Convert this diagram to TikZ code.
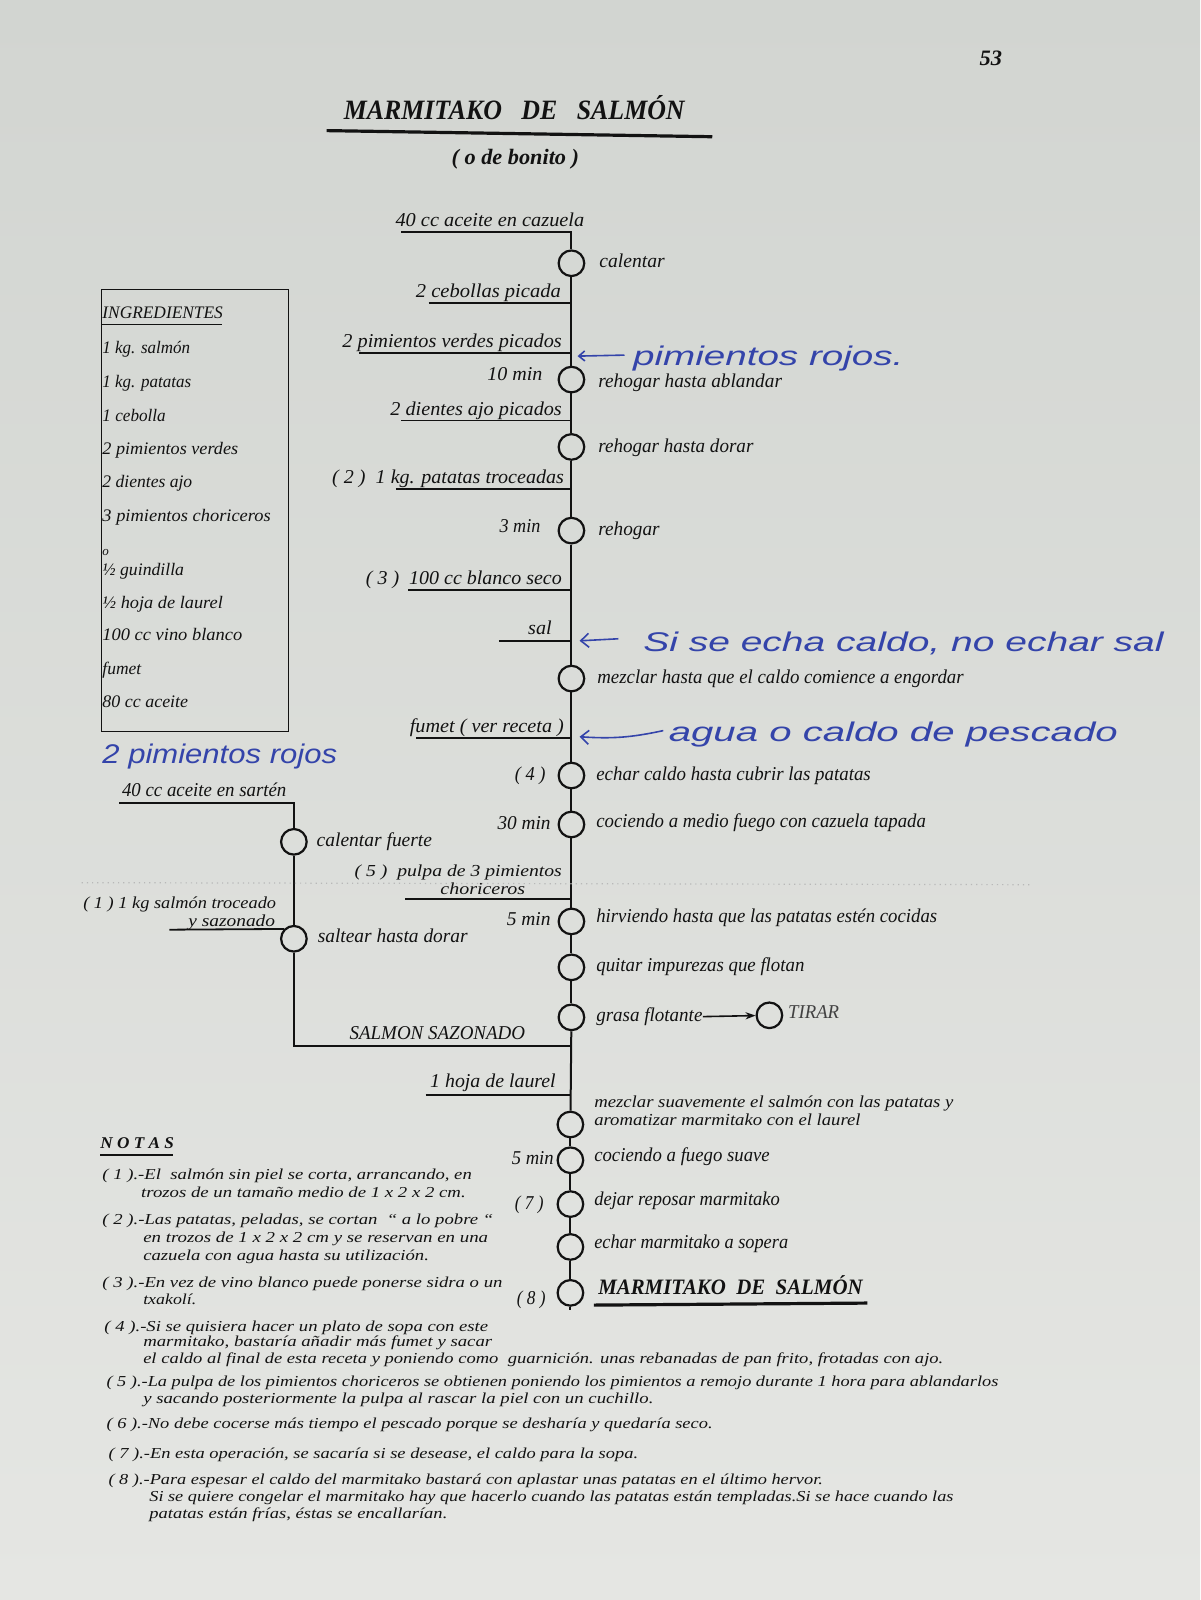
\documentclass[tikz,border=0pt]{standalone}
\usepackage{fontspec}
\usepackage{graphicx}
\setmainfont{Liberation Serif}
\newfontfamily\handfont{Liberation Sans}
\usetikzlibrary{arrows.meta}
\definecolor{paperT}{RGB}{210,213,209}
\definecolor{paperB}{RGB}{229,230,227}
\definecolor{ink}{RGB}{18,18,18}
\definecolor{pen}{RGB}{52,68,170}
\newdimen\pxu \pxu=0.5102pt
\newcommand\fw[2]{\resizebox{#1\pxu}{\height}{#2}}
\begin{document}
\begin{tikzpicture}[x=0.5102pt,y=-0.5102pt,
  lbl/.style={font=\itshape\fontsize{9.8}{11}\selectfont, inner sep=0pt, text=ink},
  lw/.style={lbl, anchor=base west},
  le/.style={lbl, anchor=base east},
  two/.style={font=\itshape\fontsize{8.4}{9}\selectfont},
  ing/.style={font=\itshape\fontsize{8.8}{10}\selectfont, inner sep=0pt, text=ink, anchor=base west},
  note/.style={font=\itshape\fontsize{7.6}{8}\selectfont, inner sep=0pt, text=ink, anchor=base west},
  stepc/.style={circle, draw=ink, line width=1.1pt, minimum size=12.8pt, inner sep=0pt},
  flow/.style={draw=ink, line width=1pt},
  uline/.style={draw=ink, line width=0.9pt},
  hand/.style={font=\handfont\itshape\fontsize{13.5}{16}\selectfont, text=pen, inner sep=0pt, anchor=base west},
  penline/.style={draw=pen, line width=0.8pt},
]
\useasboundingbox (0,0) rectangle (1176,1568);
\shade[top color=paperT, bottom color=paperB] (0,0) rectangle (1176,1568);

% ---------- header ----------
\node[font=\bfseries\itshape\fontsize{11}{13}\selectfont, text=ink, inner sep=0pt, anchor=base] (pnum) at (971,64) {\fw{22}{53}};
\node[font=\bfseries\itshape\fontsize{14}{16}\selectfont, text=ink, inner sep=0pt, anchor=base] (title) at (504,117) {\fw{334}{MARMITAKO\ \ \ DE\ \ \ SALMÓN}};
\coordinate (tu1) at (320,128);
\coordinate (tu2) at (698,134);
\draw[ink, line width=1.6pt] (tu1) -- (tu2);
\node[font=\bfseries\itshape\fontsize{11}{13}\selectfont, text=ink, inner sep=0pt, anchor=base] (subt) at (505,161) {\fw{125}{( o de bonito )}};

% ---------- ingredients box ----------
\node[draw=ink, line width=0.7pt, minimum width=93.4pt, minimum height=220.9pt, inner sep=0pt, anchor=north west] (ingbox) at (99,283) {};
\node[ing] (ingh) at (100,312) {\fw{118}{INGREDIENTES}};
\coordinate (ihu1) at (99,318);
\coordinate (ihu2) at (218,318);
\draw[ink, line width=0.9pt] (ihu1) -- (ihu2);
\node[ing] (i1) at (100,346) {\fw{86}{1 kg. salmón}};
\node[ing] (i2) at (100,380) {\fw{87}{1 kg. patatas}};
\node[ing] (i3) at (100,413) {\fw{62}{1 cebolla}};
\node[ing] (i4) at (100,445) {\fw{133}{2 pimientos verdes}};
\node[ing] (i5) at (100,478) {\fw{88}{2 dientes ajo}};
\node[ing] (i6) at (100,511) {\fw{165}{3 pimientos choriceros}};
\node[ing, font=\itshape\fontsize{6.5}{8}\selectfont] (i7) at (100,544) {o};
\node[ing] (i8) at (100,564) {\fw{80}{½ guindilla}};
\node[ing] (i9) at (100,596) {\fw{118}{½ hoja de laurel}};
\node[ing] (i10) at (100,628) {\fw{137}{100 cc vino blanco}};
\node[ing] (i11) at (100,661) {\fw{38}{fumet}};
\node[ing] (i12) at (100,693) {\fw{84}{80 cc aceite}};

% ---------- main column ----------
\node[stepc] (c1) at (560,258) {};
\node[stepc] (c2) at (560,372) {};
\node[stepc] (c3) at (560,438) {};
\node[stepc] (c4) at (560,520) {};
\node[stepc] (c5) at (560,665) {};
\node[stepc] (c6) at (560,760) {};
\node[stepc] (c7) at (560,808) {};
\node[stepc] (c8) at (560,903) {};
\node[stepc] (c9) at (560,948) {};
\node[stepc] (c10) at (560,997) {};
\node[stepc] (ct) at (754,995) {};
\node[stepc] (c11) at (559,1102) {};
\node[stepc] (c12) at (559,1137) {};
\node[stepc] (c13) at (559,1180) {};
\node[stepc] (c14) at (559,1222) {};
\node[stepc] (c15) at (559,1267) {};
\coordinate (cend) at (559,1284);

% junctions on the main line and input starts
\coordinate (s0) at (393,227);  \coordinate (j0) at (560,227);
\coordinate (s1) at (420,297);  \coordinate (j1) at (560,297);
\coordinate (s2) at (352,346);  \coordinate (j2) at (560,346);
\coordinate (s3) at (393,412);  \coordinate (j3) at (560,412);
\coordinate (s4) at (388,479);  \coordinate (j4) at (560,479);
\coordinate (s5) at (400,578);  \coordinate (j5) at (560,578);
\coordinate (s6) at (489,628);  \coordinate (j6) at (560,628);
\coordinate (s7) at (408,723);  \coordinate (j7) at (560,723);
\coordinate (s8) at (397,881);  \coordinate (j8) at (560,881);
\coordinate (j9) at (560,1025);
\coordinate (s10) at (417,1073); \coordinate (j10) at (559.5,1073);

\draw[flow] (s0) -- (j0) -- (c1);
\draw[flow] (c1) -- (c2);
\draw[flow] (c2) -- (c3);
\draw[flow] (c3) -- (c4);
\draw[flow] (c4) -- (c5);
\draw[flow] (c5) -- (c6);
\draw[flow] (c6) -- (c7);
\draw[flow] (c7) -- (c8);
\draw[flow] (c8) -- (c9);
\draw[flow] (c9) -- (c10);
\draw[flow] (c10) -- (c11);
\draw[flow] (c11) -- (c12);
\draw[flow] (c12) -- (c13);
\draw[flow] (c13) -- (c14);
\draw[flow] (c14) -- (c15);
\draw[flow] (c15) -- (cend);

\draw[uline] (s1) -- (j1);
\draw[uline] (s2) -- (j2);
\draw[uline] (s3) -- (j3);
\draw[uline] (s4) -- (j4);
\draw[uline] (s5) -- (j5);
\draw[uline] (s6) -- (j6);
\draw[uline] (s7) -- (j7);
\draw[uline] (s8) -- (j8);
\draw[uline] (s10) -- (j10);

% input texts
\node[le] (t0) at (573,222) {\fw{185}{40 cc aceite en cazuela}};
\node[le] (t1) at (550,292) {\fw{142}{2 cebollas picada}};
\node[le] (t2) at (551,341) {\fw{215}{2 pimientos verdes picados}};
\node[le] (t3) at (551,407) {\fw{168}{2 dientes ajo picados}};
\node[le] (t4) at (553,474) {\fw{227}{( 2 )\ \ 1 kg. patatas troceadas}};
\node[le] (t5) at (551,573) {\fw{192}{( 3 )\ \ 100 cc blanco seco}};
\node[le] (t6) at (541,622) {\fw{23}{sal}};
\node[le] (t7) at (553,718) {\fw{151}{fumet ( ver receta )}};
\node[le, two] (t8a) at (551,859) {\fw{203}{( 5 )\ \ pulpa de 3 pimientos}};
\node[le, two] (t8b) at (515,877) {\fw{83}{choriceros}};
\node[le] (t10) at (545,1066) {\fw{123}{1 hoja de laurel}};

% times / note refs left of circles
\node[le] (m2) at (532,373) {\fw{54}{10 min}};
\node[le] (m4) at (530,522) {\fw{40}{3 min}};
\node[le] (m6) at (535,765) {\fw{30}{( 4 )}};
\node[le] (m7) at (540,813) {\fw{52}{30 min}};
\node[le] (m8) at (540,907) {\fw{43}{5 min}};
\node[le] (m12) at (543,1141) {\fw{41}{5 min}};
\node[le] (m13) at (533,1185) {\fw{28}{( 7 )}};
\node[le] (m15) at (535,1278) {\fw{28}{( 8 )}};

% actions right of circles
\node[lw] (a1) at (587,262) {\fw{64}{calentar}};
\node[lw] (a2) at (586,380) {\fw{180}{rehogar hasta ablandar}};
\node[lw] (a3) at (586,443) {\fw{152}{rehogar hasta dorar}};
\node[lw] (a4) at (586,525) {\fw{60}{rehogar}};
\node[lw] (a5) at (585,670) {\fw{359}{mezclar hasta que el caldo comience a engordar}};
\node[lw] (a6) at (584,765) {\fw{269}{echar caldo hasta cubrir las patatas}};
\node[lw] (a7) at (584,811) {\fw{323}{cociendo a medio fuego con cazuela tapada}};
\node[lw] (a8) at (584,904) {\fw{334}{hirviendo hasta que las patatas estén cocidas}};
\node[lw] (a9) at (584,952) {\fw{204}{quitar impurezas que flotan}};
\node[lw] (a10) at (584,1001) {\fw{104}{grasa flotante}};
\node[lw, text=ink!80] (at) at (772,998) {\fw{50}{TIRAR}};
\draw[ink, line width=0.8pt, -{Stealth[length=5pt,width=3.6pt]}] (a10.east) -- (ct);
\node[lw, two] (a11a) at (582,1085) {\fw{352}{mezclar suavemente el salmón con las patatas y}};
\node[lw, two] (a11b) at (582,1103) {\fw{261}{aromatizar marmitako con el laurel}};
\node[lw] (a12) at (582,1138) {\fw{172}{cociendo a fuego suave}};
\node[lw] (a13) at (582,1181) {\fw{182}{dejar reposar marmitako}};
\node[lw] (a14) at (582,1224) {\fw{190}{echar marmitako a sopera}};
\node[lw, font=\bfseries\itshape\fontsize{11}{13}\selectfont] (a15) at (586,1269) {\fw{259}{MARMITAKO\ \ DE\ \ SALMÓN}};
\coordinate (bu1) at (582,1279);
\coordinate (bu2) at (850,1277);
\draw[ink, line width=1.6pt] (bu1) -- (bu2);

% ---------- left branch (salmon) ----------
\node[stepc] (l1) at (288,825) {};
\node[stepc] (l2) at (288,920) {};
\coordinate (ls0) at (117,787); \coordinate (lj0) at (288,787);
\coordinate (ls1) at (166,911.1);
\coordinate (lb) at (288,1025);
\draw[flow] (ls0) -- (lj0) -- (l1);
\draw[flow] (l1) -- (l2);
\draw[flow] (l2) -- (lb) -- (j9);
\draw[uline] (ls1) -- (l2.north west);
\node[le] (lt0) at (281,781) {\fw{161}{40 cc aceite en sartén}};
\node[lw] (la1) at (310,830) {\fw{113}{calentar fuerte}};
\node[le, two] (lt1a) at (271,890) {\fw{189}{( 1 ) 1 kg salmón troceado}};
\node[le, two] (lt1b) at (270,908) {\fw{85}{y sazonado}};
\node[lw] (la2) at (311,924) {\fw{147}{saltear hasta dorar}};
\node[le] (sz) at (515,1019) {\fw{172}{SALMON SAZONADO}};

% faint copier dotted trace
\coordinate (dl1) at (80,865);
\coordinate (dl2) at (1010,867);
\draw[ink!30, dotted, line width=0.6pt] (dl1) -- (dl2);

% ---------- handwritten notes (blue) ----------
\node[hand] (hw1) at (620,358) {\fw{265}{pimientos rojos.}};
\node[hand] (hw2) at (630,638) {\fw{510}{Si se echa caldo, no echar sal}};
\node[hand] (hw3) at (655,727) {\fw{440}{agua o caldo de pescado}};
\node[hand] (hw4) at (100,748) {\fw{230}{2 pimientos rojos}};
\coordinate (h1a) at (612,348); \coordinate (h1b) at (566,349);
\coordinate (h2a) at (606,626); \coordinate (h2b) at (568,628);
\coordinate (h3a) at (650,716); \coordinate (h3b) at (568,722);
\draw[penline, -{Straight Barb[length=3pt,width=5pt]}] (h1a) -- (h1b);
\draw[penline, -{Straight Barb[length=4pt,width=7pt]}] (h2a) -- (h2b);
\draw[penline, -{Straight Barb[length=4pt,width=7pt]}] (h3a) to[bend left=8] (h3b);

% ---------- notes ----------
\node[note, font=\bfseries\itshape\fontsize{8.2}{9}\selectfont] (nh) at (98,1126) {\fw{72}{N O T A S}};
\coordinate (nu1) at (98,1132);
\coordinate (nu2) at (170,1132);
\draw[ink, line width=0.9pt] (nu1) -- (nu2);
\node[note] (n1a) at (100,1156) {\fw{362}{( 1 ).-El\ \ salmón sin piel se corta, arrancando, en}};
\node[note] (n1b) at (138,1174) {\fw{318}{trozos de un tamaño medio de 1 x 2 x 2 cm.}};
\node[note] (n2a) at (100,1200) {\fw{383}{( 2 ).-Las patatas, peladas, se cortan\ \ “ a lo pobre “}};
\node[note] (n2b) at (140,1218) {\fw{338}{en trozos de 1 x 2 x 2 cm y se reservan en una}};
\node[note] (n2c) at (140,1235) {\fw{280}{cazuela con agua hasta su utilización.}};
\node[note] (n3a) at (100,1262) {\fw{392}{( 3 ).-En vez de vino blanco puede ponerse sidra o un}};
\node[note] (n3b) at (140,1278) {\fw{52}{txakolí.}};
\node[note] (n4a) at (102,1305) {\fw{376}{( 4 ).-Si se quisiera hacer un plato de sopa con este}};
\node[note] (n4b) at (140,1320) {\fw{342}{marmitako, bastaría añadir más fumet y sacar}};
\node[note] (n4c) at (140,1336) {\fw{784}{el caldo al final de esta receta y poniendo como\ \ guarnición. unas rebanadas de pan frito, frotadas con ajo.}};
\node[note] (n5a) at (104,1359) {\fw{874}{( 5 ).-La pulpa de los pimientos choriceros se obtienen poniendo los pimientos a remojo durante 1 hora para ablandarlos}};
\node[note] (n5b) at (140,1375) {\fw{500}{y sacando posteriormente la pulpa al rascar la piel con un cuchillo.}};
\node[note] (n6) at (104,1400) {\fw{594}{( 6 ).-No debe cocerse más tiempo el pescado porque se desharía y quedaría seco.}};
\node[note] (n7) at (106,1429) {\fw{519}{( 7 ).-En esta operación, se sacaría si se desease, el caldo para la sopa.}};
\node[note] (n8a) at (106,1455) {\fw{700}{( 8 ).-Para espesar el caldo del marmitako bastará con aplastar unas patatas en el último hervor.}};
\node[note] (n8b) at (146,1471) {\fw{788}{Si se quiere congelar el marmitako hay que hacerlo cuando las patatas están templadas.Si se hace cuando las}};
\node[note] (n8c) at (146,1488) {\fw{292}{patatas están frías, éstas se encallarían.}};
\end{tikzpicture}
\end{document}
